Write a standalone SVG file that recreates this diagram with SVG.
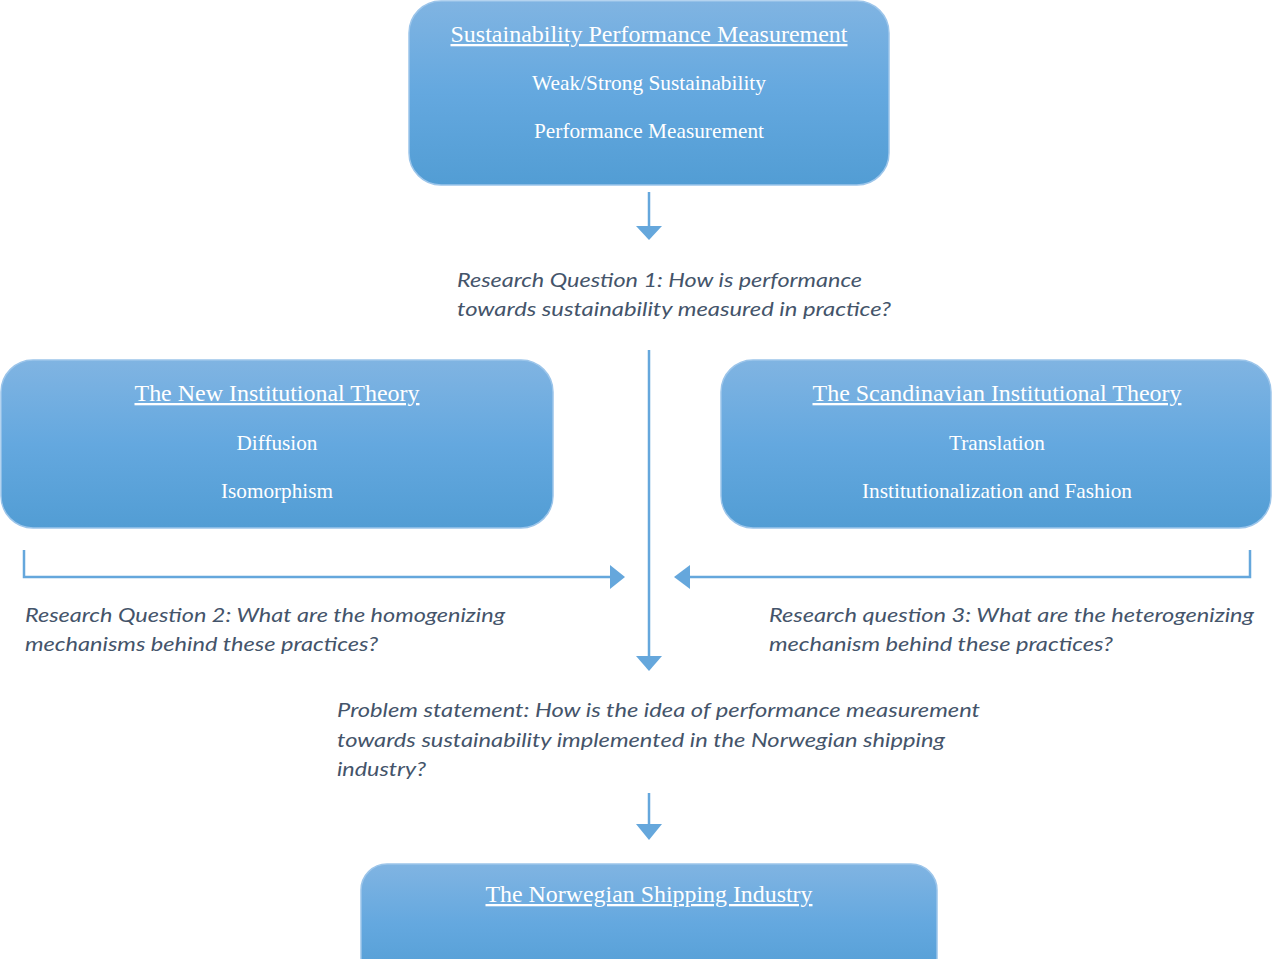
<svg xmlns="http://www.w3.org/2000/svg" width="1272" height="959" viewBox="0 0 1272 959">
<style>
.box{stroke:#9cc5ea;stroke-width:1.5}
.t{font-family:"Liberation Serif","Times New Roman",serif;fill:#ffffff;text-anchor:middle}
.h{font-size:23px;text-decoration:underline}
.s{font-size:21px}
.q{font-family:Lato,"Open Sans","Liberation Sans",sans-serif;font-style:italic;font-size:20px;fill:#44546a}
.ln{stroke:#65a7dc;stroke-width:2.5;fill:none}
.ah{fill:#65a7dc}
</style>
<defs>
<linearGradient id="g" x1="0" y1="0" x2="0" y2="1">
<stop offset="0" stop-color="#80b4e2"/>
<stop offset="0.5" stop-color="#64a8df"/>
<stop offset="1" stop-color="#529dd4"/>
</linearGradient>
</defs>
<g id="connectors">
<line class="ln" x1="649" y1="192" x2="649" y2="228"/>
<polygon class="ah" points="636,226 662,226 649,240"/>
<line class="ln" x1="649" y1="350" x2="649" y2="658"/>
<polygon class="ah" points="636,656 662,656 649,671"/>
<polyline class="ln" points="24,550 24,577 612,577"/>
<polygon class="ah" points="610,565 625,577 610,589"/>
<polyline class="ln" points="1250,550 1250,577 688,577"/>
<polygon class="ah" points="690,565 674,577 690,589"/>
<line class="ln" x1="649" y1="793" x2="649" y2="826"/>
<polygon class="ah" points="636,824 662,824 649,840"/>
</g>
<g id="node-spm">
<rect class="box" x="409" y="1" width="480" height="184" rx="32" fill="url(#g)"/>
<text class="t h" x="649" y="42" textLength="397" lengthAdjust="spacingAndGlyphs">Sustainability Performance Measurement</text>
<text class="t s" x="649" y="90" textLength="234" lengthAdjust="spacingAndGlyphs">Weak/Strong Sustainability</text>
<text class="t s" x="649" y="138" textLength="230" lengthAdjust="spacingAndGlyphs">Performance Measurement</text>
</g>
<g id="rq1">
<text class="q" x="457" y="287" textLength="405" lengthAdjust="spacingAndGlyphs">Research Question 1: How is performance</text>
<text class="q" x="457" y="316" textLength="434" lengthAdjust="spacingAndGlyphs">towards sustainability measured in practice?</text>
</g>
<g id="node-nit">
<rect class="box" x="1" y="360" width="552" height="168" rx="32" fill="url(#g)"/>
<text class="t h" x="277" y="401" textLength="285" lengthAdjust="spacingAndGlyphs">The New Institutional Theory</text>
<text class="t s" x="277" y="450" textLength="81" lengthAdjust="spacingAndGlyphs">Diffusion</text>
<text class="t s" x="277" y="498" textLength="112" lengthAdjust="spacingAndGlyphs">Isomorphism</text>
</g>
<g id="node-sit">
<rect class="box" x="721" y="360" width="550" height="168" rx="32" fill="url(#g)"/>
<text class="t h" x="997" y="401" textLength="369" lengthAdjust="spacingAndGlyphs">The Scandinavian Institutional Theory</text>
<text class="t s" x="997" y="450" textLength="96" lengthAdjust="spacingAndGlyphs">Translation</text>
<text class="t s" x="997" y="498" textLength="270" lengthAdjust="spacingAndGlyphs">Institutionalization and Fashion</text>
</g>
<g id="rq2">
<text class="q" x="25" y="622" textLength="480" lengthAdjust="spacingAndGlyphs">Research Question 2: What are the homogenizing</text>
<text class="q" x="25" y="651" textLength="353" lengthAdjust="spacingAndGlyphs">mechanisms behind these practices?</text>
</g>
<g id="rq3">
<text class="q" x="769" y="622" textLength="485" lengthAdjust="spacingAndGlyphs">Research question 3: What are the heterogenizing</text>
<text class="q" x="769" y="651" textLength="344" lengthAdjust="spacingAndGlyphs">mechanism behind these practices?</text>
</g>
<g id="problem">
<text class="q" x="337" y="717" textLength="643" lengthAdjust="spacingAndGlyphs">Problem statement: How is the idea of performance measurement</text>
<text class="q" x="337" y="747" textLength="608" lengthAdjust="spacingAndGlyphs">towards sustainability implemented in the Norwegian shipping</text>
<text class="q" x="337" y="776" textLength="89" lengthAdjust="spacingAndGlyphs">industry?</text>
</g>
<g id="node-nsi">
<rect class="box" x="361" y="864" width="576" height="120" rx="26" fill="url(#g)"/>
<text class="t h" x="649" y="902" textLength="327" lengthAdjust="spacingAndGlyphs">The Norwegian Shipping Industry</text>
</g>
</svg>
